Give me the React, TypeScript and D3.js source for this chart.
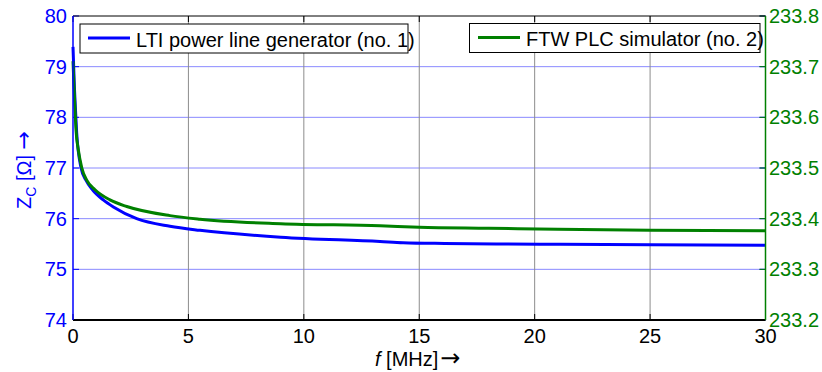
import React from "react";
import * as d3 from "d3";

const freqBlue = [0, 0.06, 0.087, 0.16, 0.347, 0.56, 0.854, 1.31, 1.75, 2.76, 4.2, 5.5, 9.0, 13.3, 14.3, 16.1, 18.4, 21.1, 25.0, 30];
const ztcBlue = [79.39, 78.6, 78.34, 77.69, 77.006, 76.76, 76.566, 76.37, 76.23, 76.0, 75.85, 75.77, 75.635, 75.55, 75.526, 75.51, 75.5, 75.495, 75.486, 75.475];

const freqGreen = [0, 0.06, 0.13, 0.23, 0.377, 0.594, 0.953, 1.6, 2.33, 4.2, 5.5, 9.0, 13.3, 15.0, 18.0, 21.0, 25.0, 30];
const ztcGreen = [233.711, 233.644, 233.575, 233.536, 233.501, 233.476, 233.457, 233.437, 233.424, 233.406, 233.399, 233.39, 233.386, 233.383, 233.381, 233.379, 233.377, 233.376];

const xTicks = [0, 5, 10, 15, 20, 25, 30];
const leftTicks = [74, 75, 76, 77, 78, 79, 80];
const rightTicks = [233.2, 233.3, 233.4, 233.5, 233.6, 233.7, 233.8];

const seriesNames = ["LTI power line generator (no. 1)", "FTW PLC simulator (no. 2)"];

const BLUE = "#0000ff";
const GREEN = "#008000";
const FONT = "'Liberation Sans', Arial, sans-serif";
const ARROW_FONT = "'DejaVu Sans', sans-serif";

export default function App() {
  const L = 73, R = 765.5, T = 16, B = 320;
  const x = d3.scaleLinear().domain([0, 30]).range([L, R]);
  const yL = d3.scaleLinear().domain([74, 80]).range([B, T]);
  const yR = d3.scaleLinear().domain([233.2, 233.8]).range([B, T]);

  const blueLine = d3.line<number>()
    .x((_, i) => x(freqBlue[i]))
    .y((d) => yL(d))
    .curve(d3.curveMonotoneX);
  const greenLine = d3.line<number>()
    .x((_, i) => x(freqGreen[i]))
    .y((d) => yR(d))
    .curve(d3.curveMonotoneX);

  return (
    <svg width={822} height={372} style={{ position: "absolute", left: 0, top: 0, background: "#fff" }} fontFamily={FONT}>
      <rect x={0} y={0} width={822} height={372} fill="#fff" />
      {/* grid */}
      {leftTicks.slice(1, -1).map((t) => (
        <line key={"hg" + t} x1={L} x2={R} y1={yL(t)} y2={yL(t)} stroke="#8a8aff" strokeWidth={1} />
      ))}
      {xTicks.slice(1, -1).map((t) => (
        <line key={"vg" + t} x1={x(t)} x2={x(t)} y1={T} y2={B} stroke="#8c8c8c" strokeWidth={1} />
      ))}
      {/* tick marks */}
      {xTicks.map((t) => (
        <g key={"xt" + t}>
          <line x1={x(t)} x2={x(t)} y1={B} y2={B - 6} stroke="#000" strokeWidth={1} />
          <line x1={x(t)} x2={x(t)} y1={T} y2={T + 6} stroke="#000" strokeWidth={1} />
        </g>
      ))}
      {leftTicks.map((t) => (
        <g key={"lt" + t}>
          <line x1={L} x2={L + 6} y1={yL(t)} y2={yL(t)} stroke={BLUE} strokeWidth={1} />
          <line x1={R} x2={R - 6} y1={yL(t)} y2={yL(t)} stroke={BLUE} strokeWidth={1} />
        </g>
      ))}
      {rightTicks.map((t) => (
        <line key={"rt" + t} x1={R} x2={R - 6} y1={yR(t)} y2={yR(t)} stroke={GREEN} strokeWidth={1} />
      ))}
      {/* frame */}
      <line x1={L} x2={R} y1={T} y2={T} stroke="#000" strokeWidth={1} />
      <line x1={L} x2={R} y1={B} y2={B} stroke="#000" strokeWidth={2} />
      {/* curves */}
      <path d={blueLine(ztcBlue) || ""} fill="none" stroke={BLUE} strokeWidth={3} />
      <path d={greenLine(ztcGreen) || ""} fill="none" stroke={GREEN} strokeWidth={3} />
      <line x1={L} x2={L} y1={T} y2={B} stroke={BLUE} strokeWidth={1.5} />
      <line x1={R} x2={R} y1={T} y2={B} stroke={GREEN} strokeWidth={1.5} />
      {/* tick labels */}
      {xTicks.map((t) => (
        <text key={"xl" + t} x={x(t)} y={343} fontSize={20} textAnchor="middle" fill="#000">{t}</text>
      ))}
      {leftTicks.map((t) => (
        <text key={"ll" + t} x={67} y={yL(t) + 7} fontSize={20} textAnchor="end" fill={BLUE}>{t}</text>
      ))}
      {rightTicks.map((t) => (
        <text key={"rl" + t} x={769} y={yR(t) + 7} fontSize={20} textAnchor="start" fill={GREEN}>{t.toFixed(1)}</text>
      ))}
      {/* axis labels */}
      <text x={375} y={366} fontSize={20} textAnchor="start" fill="#000">
        <tspan fontStyle="italic">f</tspan> [MHz]<tspan fontFamily={ARROW_FONT} fontSize={24} dx={2}>→</tspan>
      </text>
      <text transform="translate(31,170) rotate(-90)" fontSize={20} textAnchor="middle" fill={BLUE}>
        Z<tspan fontSize={14} dy={5}>C</tspan><tspan dy={-5}> [Ω] </tspan><tspan fontFamily={ARROW_FONT} fontSize={22}>→</tspan>
      </text>
      {/* legends */}
      <rect x={80} y={24} width={328} height={29} fill="#fff" stroke="#000" strokeWidth={1} />
      <line x1={88} x2={130} y1={38} y2={38} stroke={BLUE} strokeWidth={3} />
      <text x={136} y={46.5} fontSize={20} fill="#000">{seriesNames[0]}</text>
      <rect x={469.5} y={23.5} width={290.5} height={29} fill="#fff" stroke="#000" strokeWidth={1} />
      <line x1={478} x2={520} y1={37.5} y2={37.5} stroke={GREEN} strokeWidth={3} />
      <text x={526} y={46} fontSize={20} fill="#000">{seriesNames[1]}</text>
    </svg>
  );
}
